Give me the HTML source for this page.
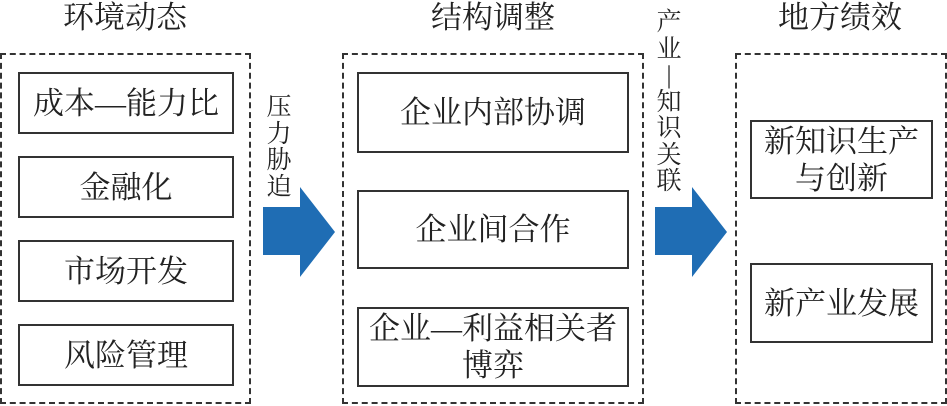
<!DOCTYPE html>
<html><head><meta charset="utf-8"><style>
body{margin:0;width:947px;height:406px;background:#fff;position:relative;overflow:hidden;font-family:"Liberation Serif","Noto Serif CJK SC",serif;color:#222}
.d{position:absolute;border:2px dashed #333;box-sizing:border-box}
.b{position:absolute;border:2px solid #333;box-sizing:border-box;display:flex;align-items:center;justify-content:center;text-align:center;font-size:31px;line-height:37px;white-space:nowrap}
.t{position:absolute;font-size:31px;text-align:center;width:200px;top:1px;line-height:34px}
.v{position:absolute;font-size:25px;line-height:26.5px;width:26px;text-align:center}
</style></head><body>
<div class="t" style="left:25px">环境动态</div>
<div class="t" style="left:393px">结构调整</div>
<div class="t" style="left:740px">地方绩效</div>
<div class="d" style="left:0;top:53px;width:251px;height:351px"></div>
<div class="d" style="left:342px;top:53px;width:302px;height:351px"></div>
<div class="d" style="left:735px;top:53px;width:212px;height:351px"></div>
<div class="b" style="left:18px;top:72px;width:216px;height:62px">成本—能力比</div>
<div class="b" style="left:18px;top:156px;width:216px;height:62px">金融化</div>
<div class="b" style="left:18px;top:240px;width:216px;height:62px">市场开发</div>
<div class="b" style="left:18px;top:324px;width:216px;height:62px">风险管理</div>
<div class="b" style="left:357px;top:72px;width:272px;height:81px">企业内部协调</div>
<div class="b" style="left:357px;top:190px;width:272px;height:79px">企业间合作</div>
<div class="b" style="left:357px;top:307px;width:272px;height:80px">企业—利益相关者<br>博弈</div>
<div class="b" style="left:750px;top:120px;width:183px;height:79px">新知识生产<br>与创新</div>
<div class="b" style="left:750px;top:263px;width:183px;height:80px">新产业发展</div>
<div class="v" style="left:266px;top:95px">压<br>力<br>胁<br>迫</div>
<div class="v" style="left:656px;top:10px">产<br>业<br>|<br>知<br>识<br>关<br>联</div>
<svg style="position:absolute;left:0;top:0" width="947" height="406">
<polygon points="263,207 300,207 300,187 335,232 300,277 300,255 263,255" fill="#1f6db4"/>
<polygon points="655,207 692,207 692,187 727,232 692,277 692,255 655,255" fill="#1f6db4"/>
</svg>
</body></html>
